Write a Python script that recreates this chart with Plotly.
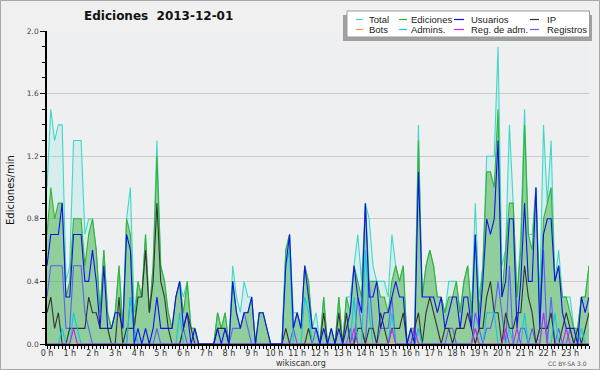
import plotly.graph_objects as go

# ---------------- data (10-minute bins, edits per minute) ----------------
minutes = list(range(0, 1440, 10))
hour_ticks = list(range(0, 1440, 60))
hour_labels = [f"{h} h" for h in range(24)]
y_ticks = [0.0, 0.4, 0.8, 1.2, 1.6, 2.0]
y_labels = ["0.0", "0.4", "0.8", "1.2", "1.6", "2.0"]

total = [
    1.0, 1.5, 1.3, 1.4, 1.4, 0.4, 0.5, 1.3, 1.3, 1.3, 0.7, 0.8,
    0.8, 0.6, 0.2, 0.6, 0.2, 0.1, 0.2, 0.5, 0.1, 0.8, 1.0, 0.2,
    0.4, 0.3, 0.7, 0.2, 0.5, 1.3, 0.5, 0.4, 0.2, 0.1, 0.3, 0.4,
    0.3, 0.4, 0.1, 0.1, 0.0, 0.0, 0.0, 0.0, 0.0, 0.2, 0.1, 0.2,
    0.0, 0.5, 0.3, 0.2, 0.4, 0.3, 0.3, 0.0, 0.2, 0.2, 0.1, 0.0,
    0.0, 0.0, 0.0, 0.6, 0.7, 0.2, 0.2, 0.1, 0.5, 0.4, 0.1, 0.2,
    0.0, 0.3, 0.0, 0.1, 0.0, 0.3, 0.0, 0.3, 0.3, 0.5, 0.7, 0.4,
    0.9, 0.8, 0.5, 0.4, 0.4, 0.4, 0.3, 0.7, 0.5, 0.4, 0.5, 0.0,
    0.1, 0.1, 1.4, 0.3, 0.5, 0.6, 0.5, 0.3, 0.3, 0.2, 0.4, 0.4,
    0.4, 0.2, 0.4, 0.5, 0.2, 0.9, 0.3, 0.5, 1.2, 1.2, 1.2, 1.9,
    0.5, 0.6, 1.4, 0.9, 0.3, 0.7, 1.5, 0.7, 0.7, 1.0, 0.3, 1.4,
    0.9, 1.3, 0.4, 0.6, 0.3, 0.3, 0.3, 0.1, 0.1, 0.3, 0.3, 0.5,
]
ediciones = [
    0.7, 1.0, 0.8, 0.9, 0.9, 0.3, 0.4, 0.8, 0.8, 0.8, 0.5, 0.7,
    0.8, 0.6, 0.2, 0.6, 0.2, 0.1, 0.2, 0.5, 0.1, 0.8, 0.7, 0.1,
    0.4, 0.3, 0.7, 0.2, 0.5, 1.2, 0.5, 0.4, 0.2, 0.1, 0.3, 0.4,
    0.2, 0.4, 0.1, 0.1, 0.0, 0.0, 0.0, 0.0, 0.0, 0.2, 0.1, 0.2,
    0.0, 0.4, 0.2, 0.1, 0.2, 0.2, 0.3, 0.0, 0.2, 0.2, 0.1, 0.0,
    0.0, 0.0, 0.0, 0.6, 0.7, 0.1, 0.2, 0.1, 0.5, 0.4, 0.1, 0.1,
    0.0, 0.3, 0.0, 0.1, 0.0, 0.3, 0.0, 0.3, 0.2, 0.5, 0.4, 0.3,
    0.9, 0.4, 0.4, 0.4, 0.3, 0.3, 0.2, 0.4, 0.5, 0.4, 0.5, 0.0,
    0.1, 0.1, 1.3, 0.3, 0.5, 0.6, 0.5, 0.3, 0.3, 0.2, 0.3, 0.3,
    0.4, 0.2, 0.4, 0.5, 0.2, 0.7, 0.2, 0.5, 1.1, 1.1, 1.0, 1.5,
    0.3, 0.6, 0.9, 0.9, 0.3, 0.6, 1.4, 0.7, 0.6, 1.0, 0.2, 0.8,
    0.9, 1.0, 0.4, 0.5, 0.3, 0.3, 0.2, 0.1, 0.1, 0.3, 0.3, 0.5,
]
usuarios = [
    0.5, 0.7, 0.7, 0.7, 0.9, 0.3, 0.3, 0.7, 0.7, 0.7, 0.4, 0.4,
    0.6, 0.4, 0.1, 0.5, 0.1, 0.1, 0.2, 0.2, 0.1, 0.7, 0.6, 0.0,
    0.1, 0.0, 0.1, 0.0, 0.1, 0.3, 0.1, 0.1, 0.1, 0.1, 0.3, 0.4,
    0.1, 0.2, 0.0, 0.1, 0.0, 0.0, 0.0, 0.0, 0.0, 0.1, 0.0, 0.1,
    0.0, 0.4, 0.2, 0.1, 0.2, 0.2, 0.3, 0.0, 0.2, 0.2, 0.1, 0.0,
    0.0, 0.0, 0.0, 0.5, 0.7, 0.1, 0.2, 0.1, 0.5, 0.3, 0.1, 0.1,
    0.0, 0.1, 0.0, 0.1, 0.0, 0.1, 0.0, 0.1, 0.2, 0.5, 0.3, 0.2,
    0.9, 0.3, 0.3, 0.4, 0.1, 0.2, 0.2, 0.3, 0.4, 0.3, 0.3, 0.0,
    0.1, 0.0, 1.1, 0.3, 0.3, 0.3, 0.3, 0.2, 0.3, 0.1, 0.2, 0.3,
    0.3, 0.1, 0.3, 0.3, 0.1, 0.7, 0.1, 0.4, 0.8, 0.7, 0.8, 1.3,
    0.3, 0.4, 0.8, 0.8, 0.1, 0.4, 0.9, 0.4, 0.4, 1.0, 0.1, 0.7,
    0.8, 0.8, 0.4, 0.5, 0.2, 0.1, 0.1, 0.1, 0.0, 0.3, 0.2, 0.3,
]
ip = [
    0.2, 0.3, 0.1, 0.2, 0.0, 0.0, 0.1, 0.1, 0.1, 0.1, 0.1, 0.3,
    0.2, 0.2, 0.1, 0.1, 0.1, 0.0, 0.0, 0.3, 0.0, 0.1, 0.1, 0.1,
    0.3, 0.3, 0.6, 0.2, 0.4, 0.9, 0.4, 0.3, 0.1, 0.0, 0.0, 0.0,
    0.1, 0.2, 0.1, 0.0, 0.0, 0.0, 0.0, 0.0, 0.0, 0.1, 0.1, 0.1,
    0.0, 0.0, 0.0, 0.0, 0.0, 0.0, 0.0, 0.0, 0.0, 0.0, 0.0, 0.0,
    0.0, 0.0, 0.0, 0.1, 0.0, 0.0, 0.0, 0.0, 0.0, 0.1, 0.0, 0.0,
    0.0, 0.2, 0.0, 0.0, 0.0, 0.2, 0.0, 0.2, 0.0, 0.0, 0.1, 0.1,
    0.0, 0.1, 0.1, 0.0, 0.2, 0.1, 0.0, 0.1, 0.1, 0.1, 0.2, 0.0,
    0.0, 0.1, 0.2, 0.0, 0.2, 0.3, 0.2, 0.1, 0.0, 0.1, 0.1, 0.0,
    0.1, 0.1, 0.1, 0.2, 0.1, 0.0, 0.1, 0.1, 0.3, 0.4, 0.2, 0.2,
    0.0, 0.2, 0.1, 0.1, 0.2, 0.2, 0.5, 0.3, 0.2, 0.0, 0.1, 0.1,
    0.1, 0.2, 0.0, 0.0, 0.1, 0.2, 0.1, 0.0, 0.1, 0.0, 0.1, 0.2,
]
bots = [
    0.0, 0.0, 0.0, 0.0, 0.0, 0.0, 0.0, 0.0, 0.0, 0.0, 0.0, 0.0,
    0.0, 0.0, 0.0, 0.0, 0.0, 0.0, 0.0, 0.0, 0.0, 0.0, 0.0, 0.0,
    0.0, 0.0, 0.0, 0.0, 0.0, 0.0, 0.0, 0.0, 0.0, 0.0, 0.0, 0.0,
    0.0, 0.0, 0.0, 0.0, 0.0, 0.0, 0.0, 0.0, 0.0, 0.0, 0.0, 0.0,
    0.0, 0.0, 0.0, 0.0, 0.0, 0.0, 0.0, 0.0, 0.0, 0.0, 0.0, 0.0,
    0.0, 0.0, 0.0, 0.0, 0.0, 0.0, 0.0, 0.0, 0.0, 0.0, 0.0, 0.0,
    0.0, 0.0, 0.0, 0.0, 0.0, 0.0, 0.0, 0.0, 0.0, 0.0, 0.0, 0.0,
    0.0, 0.0, 0.0, 0.0, 0.0, 0.0, 0.0, 0.0, 0.0, 0.0, 0.0, 0.0,
    0.0, 0.0, 0.0, 0.0, 0.0, 0.0, 0.0, 0.0, 0.0, 0.0, 0.0, 0.0,
    0.0, 0.0, 0.0, 0.0, 0.0, 0.0, 0.0, 0.0, 0.0, 0.0, 0.0, 0.0,
    0.0, 0.0, 0.0, 0.0, 0.0, 0.0, 0.0, 0.0, 0.0, 0.0, 0.0, 0.0,
    0.0, 0.0, 0.0, 0.0, 0.0, 0.0, 0.0, 0.0, 0.0, 0.0, 0.0, 0.0,
]
admins = [
    0.0, 0.0, 0.0, 0.0, 0.1, 0.0, 0.0, 0.2, 0.1, 0.0, 0.0, 0.0,
    0.0, 0.0, 0.0, 0.0, 0.0, 0.0, 0.0, 0.0, 0.0, 0.0, 0.3, 0.1,
    0.0, 0.0, 0.0, 0.0, 0.0, 0.0, 0.0, 0.0, 0.0, 0.0, 0.0, 0.2,
    0.0, 0.0, 0.0, 0.0, 0.0, 0.0, 0.0, 0.0, 0.0, 0.0, 0.0, 0.0,
    0.0, 0.0, 0.0, 0.0, 0.0, 0.0, 0.0, 0.0, 0.0, 0.0, 0.0, 0.0,
    0.0, 0.0, 0.0, 0.5, 0.6, 0.0, 0.0, 0.0, 0.3, 0.2, 0.0, 0.0,
    0.0, 0.0, 0.0, 0.0, 0.0, 0.0, 0.0, 0.0, 0.0, 0.3, 0.0, 0.0,
    0.6, 0.2, 0.0, 0.0, 0.0, 0.0, 0.0, 0.2, 0.0, 0.0, 0.0, 0.0,
    0.0, 0.0, 0.1, 0.0, 0.0, 0.0, 0.0, 0.0, 0.0, 0.0, 0.0, 0.0,
    0.0, 0.0, 0.0, 0.0, 0.0, 0.1, 0.0, 0.0, 0.2, 0.2, 0.2, 0.0,
    0.0, 0.0, 0.1, 0.0, 0.0, 0.0, 0.2, 0.0, 0.0, 0.0, 0.0, 0.2,
    0.0, 0.0, 0.2, 0.0, 0.0, 0.0, 0.0, 0.0, 0.0, 0.1, 0.0, 0.0,
]
reg_adm = [
    0.0, 0.0, 0.0, 0.0, 0.0, 0.0, 0.0, 0.1, 0.0, 0.0, 0.0, 0.0,
    0.0, 0.0, 0.0, 0.0, 0.0, 0.0, 0.0, 0.0, 0.0, 0.0, 0.0, 0.0,
    0.0, 0.0, 0.0, 0.0, 0.0, 0.0, 0.0, 0.0, 0.0, 0.0, 0.0, 0.0,
    0.0, 0.0, 0.0, 0.0, 0.0, 0.0, 0.0, 0.0, 0.0, 0.0, 0.0, 0.0,
    0.0, 0.0, 0.0, 0.0, 0.0, 0.0, 0.0, 0.0, 0.0, 0.0, 0.0, 0.0,
    0.0, 0.0, 0.0, 0.0, 0.0, 0.0, 0.0, 0.0, 0.0, 0.0, 0.0, 0.0,
    0.0, 0.0, 0.0, 0.0, 0.0, 0.0, 0.0, 0.0, 0.0, 0.1, 0.0, 0.0,
    0.0, 0.0, 0.0, 0.0, 0.0, 0.0, 0.0, 0.1, 0.0, 0.0, 0.0, 0.0,
    0.0, 0.1, 0.0, 0.0, 0.0, 0.0, 0.0, 0.0, 0.0, 0.0, 0.0, 0.0,
    0.0, 0.0, 0.0, 0.0, 0.0, 0.1, 0.0, 0.0, 0.0, 0.0, 0.0, 0.0,
    0.0, 0.1, 0.0, 0.0, 0.1, 0.0, 0.0, 0.0, 0.0, 0.0, 0.0, 0.2,
    0.0, 0.0, 0.0, 0.0, 0.0, 0.1, 0.0, 0.0, 0.0, 0.0, 0.0, 0.0,
]
registros = [
    0.3, 0.5, 0.5, 0.5, 0.5, 0.1, 0.1, 0.5, 0.5, 0.5, 0.2, 0.1,
    0.0, 0.0, 0.0, 0.0, 0.0, 0.0, 0.0, 0.0, 0.0, 0.0, 0.3, 0.1,
    0.0, 0.0, 0.0, 0.0, 0.0, 0.1, 0.0, 0.0, 0.0, 0.0, 0.0, 0.0,
    0.1, 0.0, 0.0, 0.0, 0.0, 0.0, 0.0, 0.0, 0.0, 0.0, 0.0, 0.0,
    0.0, 0.1, 0.1, 0.1, 0.2, 0.1, 0.0, 0.0, 0.0, 0.0, 0.0, 0.0,
    0.0, 0.0, 0.0, 0.0, 0.0, 0.1, 0.0, 0.0, 0.0, 0.0, 0.0, 0.1,
    0.0, 0.0, 0.0, 0.0, 0.0, 0.0, 0.0, 0.0, 0.1, 0.0, 0.3, 0.1,
    0.0, 0.4, 0.1, 0.0, 0.1, 0.1, 0.1, 0.3, 0.0, 0.0, 0.0, 0.0,
    0.0, 0.0, 0.1, 0.0, 0.0, 0.0, 0.0, 0.0, 0.0, 0.0, 0.1, 0.1,
    0.0, 0.0, 0.0, 0.0, 0.0, 0.2, 0.1, 0.0, 0.1, 0.1, 0.2, 0.4,
    0.2, 0.0, 0.5, 0.0, 0.0, 0.1, 0.1, 0.0, 0.1, 0.0, 0.1, 0.6,
    0.0, 0.3, 0.0, 0.1, 0.0, 0.0, 0.1, 0.0, 0.0, 0.0, 0.0, 0.0,
]

series_names = ["Total", "Ediciones", "Usuarios", "IP",
                "Bots", "Admins.", "Reg. de adm.", "Registros"]
colors = {
    "Total": "#3fd8c8",
    "Ediciones": "#36b336",
    "Usuarios": "#1010f0",
    "IP": "#333333",
    "Bots": "#ffa020",
    "Admins.": "#10c8e0",
    "Reg. de adm.": "#cc22ee",
    "Registros": "#5e5ef8",
}
values = {
    "Total": total, "Ediciones": ediciones, "Usuarios": usuarios, "IP": ip,
    "Bots": bots, "Admins.": admins, "Reg. de adm.": reg_adm, "Registros": registros,
}

# ---------------- layout geometry ----------------
W, H = 600, 370
ML, MR, MT, MB = 47, 11, 31, 26
PW, PH = W - ML - MR, H - MT - MB


def xp(px):
    return (px - ML) / PW


def yp(py):
    return (H - MB - py) / PH


fig = go.Figure()

fig.add_trace(go.Scatter(
    x=minutes, y=total, mode="lines", name="Total", fill="tozeroy",
    fillcolor="rgba(64,224,208,0.14)", line=dict(color=colors["Total"], width=1.1),
    showlegend=False))
fig.add_trace(go.Scatter(
    x=minutes, y=ediciones, mode="lines", name="Ediciones", fill="tozeroy",
    fillcolor="rgba(60,170,60,0.45)", line=dict(color=colors["Ediciones"], width=1.1),
    showlegend=False))
for name in ["Bots", "Registros", "IP", "Admins.", "Reg. de adm.", "Usuarios"]:
    fig.add_trace(go.Scatter(
        x=minutes, y=values[name], mode="lines", name=name,
        line=dict(color=colors[name], width=1.1), showlegend=False))

fig.update_layout(
    width=W, height=H,
    margin=dict(l=ML, r=MR, t=MT, b=MB, pad=0),
    paper_bgcolor="#f0f0f0",
    plot_bgcolor="#eeeff1",
    showlegend=False,
    font=dict(family="DejaVu Sans", size=8, color="#333333"),
)
fig.update_xaxes(
    range=[0, 1430], tickmode="array", tickvals=hour_ticks, ticktext=hour_labels,
    ticks="outside", ticklen=3, tickwidth=1, tickcolor="black",
    showline=True, linecolor="black", linewidth=2, showgrid=False, zeroline=False,
    ticklabelstandoff=-3,
    tickfont=dict(family="DejaVu Sans", size=8, color="#333333"),
    minor=dict(dtick=10, tick0=0, ticks="outside", ticklen=3, tickcolor="black", tickwidth=1),
)
fig.update_yaxes(
    range=[0, 2.0], tickmode="array", tickvals=y_ticks, ticktext=y_labels,
    ticks="outside", ticklen=5, tickwidth=1, tickcolor="black",
    showline=True, linecolor="black", linewidth=1.5,
    showgrid=True, gridcolor="#cacaca", gridwidth=1, zeroline=False,
    tickfont=dict(family="DejaVu Sans", size=7.5, color="#444444"),
    minor=dict(dtick=0.1, tick0=0, ticks="outside", ticklen=3, tickcolor="black", tickwidth=1),
)

shapes = []
annotations = []

# image border
shapes.append(dict(type="rect", xref="paper", yref="paper",
                   x0=xp(0.5), x1=xp(599.5), y0=yp(0.5), y1=yp(369.5),
                   line=dict(color="#a8a8a8", width=1), fillcolor="rgba(0,0,0,0)", layer="above"))

# title
annotations.append(dict(text="<b>Ediciones  2013-12-01</b>", xref="paper", yref="paper",
                        x=xp(158.5), y=yp(16.5), xanchor="center", yanchor="middle",
                        showarrow=False, font=dict(family="DejaVu Sans", size=12, color="#111111")))
# y axis title
annotations.append(dict(text="Ediciones/min", xref="paper", yref="paper",
                        x=xp(10), y=yp(190), xanchor="center", yanchor="middle", textangle=-90,
                        showarrow=False, font=dict(family="DejaVu Sans", size=10, color="#111111")))
# footer texts
annotations.append(dict(text="wikiscan.org", xref="paper", yref="paper",
                        x=xp(301), y=yp(363), xanchor="center", yanchor="middle",
                        showarrow=False, font=dict(family="DejaVu Sans", size=8, color="#333333")))
annotations.append(dict(text="CC BY-SA 3.0", xref="paper", yref="paper",
                        x=xp(589), y=yp(363.5), xanchor="right", yanchor="middle",
                        showarrow=False, font=dict(family="DejaVu Sans", size=6, color="#555555")))

# legend (drawn manually: 2 rows x 4 columns)
shapes.append(dict(type="rect", xref="paper", yref="paper",
                   x0=xp(343), x1=xp(592), y0=yp(41), y1=yp(15),
                   line=dict(width=0), fillcolor="#a0a0a0", layer="above"))
shapes.append(dict(type="rect", xref="paper", yref="paper",
                   x0=xp(347), x1=xp(589.5), y0=yp(37), y1=yp(11),
                   line=dict(color="#9a9a9a", width=1), fillcolor="#ffffff", layer="above"))
line_x = [(356, 363), (399, 407), (454, 464), (530, 539)]
text_x = [367, 409, 469, 545]
row_y = [19.5, 29.5]
for k, name in enumerate(series_names):
    r, c = divmod(k, 4)
    x0, x1 = line_x[c]
    shapes.append(dict(type="line", xref="paper", yref="paper",
                       x0=xp(x0), x1=xp(x1), y0=yp(row_y[r]), y1=yp(row_y[r]),
                       line=dict(color=colors[name], width=1.2), layer="above"))
    annotations.append(dict(text=name, xref="paper", yref="paper",
                            x=xp(text_x[c]), y=yp(row_y[r]), xanchor="left", yanchor="middle",
                            showarrow=False,
                            font=dict(family="Liberation Sans", size=9.5, color="#222222")))

fig.update_layout(shapes=shapes, annotations=annotations)
fig.write_html(
    "out.html",
    config={"displayModeBar": False},
    post_script="document.body.style.margin='0';document.body.style.overflow='hidden';",
)
